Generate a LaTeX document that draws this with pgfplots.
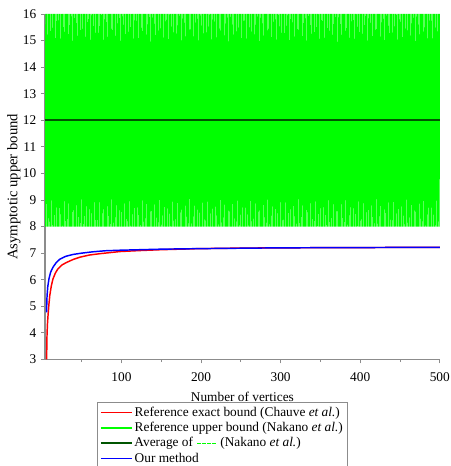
\documentclass[border=0pt]{standalone}
\usepackage{fontspec}
\setmainfont{Liberation Serif}
\usepackage{pgfplots}
\pgfplotsset{compat=1.18}
\definecolor{cred}{RGB}{255,0,0}
\definecolor{cgreen}{RGB}{0,255,0}
\definecolor{cdkgreen}{RGB}{0,85,0}
\definecolor{cblue}{RGB}{0,0,255}
\definecolor{caxis}{RGB}{140,140,140}
\newcommand{\gdashes}{\tikz[baseline=0pt]{\draw[draw=cgreen, line width=1.1pt, dash pattern=on 2.6pt off 1.2pt] (0pt,0.6ex) -- (14.4pt,0.6ex);}}
\begin{document}
\begin{tikzpicture}
\begin{axis}[
  scale only axis,
  width=296pt, height=259pt,
  xmin=4, xmax=500, ymin=3, ymax=16,
  axis lines=left,
  axis line style={-, draw=caxis, line width=1pt},
  xtick={100,200,300,400,500},
  minor xtick={50,150,250,350,450},
  ytick={3,4,5,6,7,8,9,10,11,12,13,14,15,16},
  tick align=outside,
  tick style={draw=caxis, line width=0.6pt},
  major tick length=3pt, minor tick length=2pt,
  /pgf/number format/assume math mode=true,
  tick label style={font=\fontsize{10}{12}\selectfont},
  xticklabel style={yshift=-3.5pt},
  xlabel={Number of vertices},
  ylabel={Asymptotic upper bound},
  xlabel style={font=\fontsize{10}{12}\selectfont, yshift=-1pt},
  ylabel style={font=\fontsize{11}{13}\selectfont, yshift=-5pt},
  legend cell align=left,
  legend style={at={(axis description cs:0.1316,-0.122)}, anchor=north west,
    draw=caxis, line width=0.8pt, font=\fontsize{10}{11}\selectfont,
    row sep=0pt, inner sep=2pt,
    nodes={inner sep=1.5pt}},
  legend image code/.code={\draw[#1] (0pt,0pt) -- (23pt,0pt);},
]
\addplot[draw=cred, line width=1.1pt] coordinates {
(6,3.0)(6.5,3.9)(7,4.3)(7.8,4.66)(9,5.1)(10,5.41)(12,5.78)(14,6.03)(17,6.25)(20,6.4)(25,6.55)(31,6.65)(40,6.77)(48,6.85)(60,6.93)(73,6.98)(98,7.06)(125,7.1)(150,7.13)(198,7.17)(250,7.19)(300,7.2)(400,7.21)(500,7.22)
};
\addlegendentry{Reference exact bound (Chauve \textit{et al.})}
\addplot[draw=cgreen, line width=0.85pt, line join=bevel, legend image post style={line width=1.1pt}] coordinates {
(4,16)(5,8)(6,16)(7,8)(8,16)(9,8)
(10,16)(11,8)(12,16)(13,8)(14,16)(15,8)(16,16)(17,8)(18,16)(19,8)
(20,16)(21,8)(22,16)(23,8)(24,16)(25,8)(26,16)(27,8)(28,16)(29,8)
(30,16)(31,8)(32,16)(33,8)(34,16)(35,8)(36,16)(37,8)(38,16)(39,8)
(40,16)(41,8)(42,16)(43,8)(44,16)(45,8)(46,16)(47,8)(48,16)(49,8)
(50,16)(51,8)(52,16)(53,8)(54,16)(55,8)(56,16)(57,8)(58,16)(59,8)
(60,16)(61,8)(62,16)(63,8)(64,16)(65,8)(66,16)(67,8)(68,16)(69,8)
(70,16)(71,8)(72,16)(73,8)(74,16)(75,8)(76,16)(77,8)(78,16)(79,8)
(80,16)(81,8)(82,16)(83,8)(84,16)(85,8)(86,16)(87,8)(88,16)(89,8)
(90,16)(91,8)(92,16)(93,8)(94,16)(95,8)(96,16)(97,8)(98,16)(99,8)
(100,16)(101,8)(102,16)(103,8)(104,16)(105,8)(106,16)(107,8)(108,16)(109,8)
(110,16)(111,8)(112,16)(113,8)(114,16)(115,8)(116,16)(117,8)(118,16)(119,8)
(120,16)(121,8)(122,16)(123,8)(124,16)(125,8)(126,16)(127,8)(128,16)(129,8)
(130,16)(131,8)(132,16)(133,8)(134,16)(135,8)(136,16)(137,8)(138,16)(139,8)
(140,16)(141,8)(142,16)(143,8)(144,16)(145,8)(146,16)(147,8)(148,16)(149,8)
(150,16)(151,8)(152,16)(153,8)(154,16)(155,8)(156,16)(157,8)(158,16)(159,8)
(160,16)(161,8)(162,16)(163,8)(164,16)(165,8)(166,16)(167,8)(168,16)(169,8)
(170,16)(171,8)(172,16)(173,8)(174,16)(175,8)(176,16)(177,8)(178,16)(179,8)
(180,16)(181,8)(182,16)(183,8)(184,16)(185,8)(186,16)(187,8)(188,16)(189,8)
(190,16)(191,8)(192,16)(193,8)(194,16)(195,8)(196,16)(197,8)(198,16)(199,8)
(200,16)(201,8)(202,16)(203,8)(204,16)(205,8)(206,16)(207,8)(208,16)(209,8)
(210,16)(211,8)(212,16)(213,8)(214,16)(215,8)(216,16)(217,8)(218,16)(219,8)
(220,16)(221,8)(222,16)(223,8)(224,16)(225,8)(226,16)(227,8)(228,16)(229,8)
(230,16)(231,8)(232,16)(233,8)(234,16)(235,8)(236,16)(237,8)(238,16)(239,8)
(240,16)(241,8)(242,16)(243,8)(244,16)(245,8)(246,16)(247,8)(248,16)(249,8)
(250,16)(251,8)(252,16)(253,8)(254,16)(255,8)(256,16)(257,8)(258,16)(259,8)
(260,16)(261,8)(262,16)(263,8)(264,16)(265,8)(266,16)(267,8)(268,16)(269,8)
(270,16)(271,8)(272,16)(273,8)(274,16)(275,8)(276,16)(277,8)(278,16)(279,8)
(280,16)(281,8)(282,16)(283,8)(284,16)(285,8)(286,16)(287,8)(288,16)(289,8)
(290,16)(291,8)(292,16)(293,8)(294,16)(295,8)(296,16)(297,8)(298,16)(299,8)
(300,16)(301,8)(302,16)(303,8)(304,16)(305,8)(306,16)(307,8)(308,16)(309,8)
(310,16)(311,8)(312,16)(313,8)(314,16)(315,8)(316,16)(317,8)(318,16)(319,8)
(320,16)(321,8)(322,16)(323,8)(324,16)(325,8)(326,16)(327,8)(328,16)(329,8)
(330,16)(331,8)(332,16)(333,8)(334,16)(335,8)(336,16)(337,8)(338,16)(339,8)
(340,16)(341,8)(342,16)(343,8)(344,16)(345,8)(346,16)(347,8)(348,16)(349,8)
(350,16)(351,8)(352,16)(353,8)(354,16)(355,8)(356,16)(357,8)(358,16)(359,8)
(360,16)(361,8)(362,16)(363,8)(364,16)(365,8)(366,16)(367,8)(368,16)(369,8)
(370,16)(371,8)(372,16)(373,8)(374,16)(375,8)(376,16)(377,8)(378,16)(379,8)
(380,16)(381,8)(382,16)(383,8)(384,16)(385,8)(386,16)(387,8)(388,16)(389,8)
(390,16)(391,8)(392,16)(393,8)(394,16)(395,8)(396,16)(397,8)(398,16)(399,8)
(400,16)(401,8)(402,16)(403,8)(404,16)(405,8)(406,16)(407,8)(408,16)(409,8)
(410,16)(411,8)(412,16)(413,8)(414,16)(415,8)(416,16)(417,8)(418,16)(419,8)
(420,16)(421,8)(422,16)(423,8)(424,16)(425,8)(426,16)(427,8)(428,16)(429,8)
(430,16)(431,8)(432,16)(433,8)(434,16)(435,8)(436,16)(437,8)(438,16)(439,8)
(440,16)(441,8)(442,16)(443,8)(444,16)(445,8)(446,16)(447,8)(448,16)(449,8)
(450,16)(451,8)(452,16)(453,8)(454,16)(455,8)(456,16)(457,8)(458,16)(459,8)
(460,16)(461,8)(462,16)(463,8)(464,16)(465,8)(466,16)(467,8)(468,16)(469,8)
(470,16)(471,8)(472,16)(473,8)(474,16)(475,8)(476,16)(477,8)(478,16)(479,8)
(480,16)(481,8)(482,16)(483,8)(484,16)(485,8)(486,16)(487,8)(488,16)(489,8)
(490,16)(491,8)(492,16)(493,8)(494,16)(495,8)(496,16)(497,8)(498,16)(499,8)
(500,16)
};
\addlegendentry{Reference upper bound (Nakano \textit{et al.})}
\addplot[draw=cdkgreen, line width=1.2pt] coordinates {(4,12)(500,12)};
\addlegendentry{Average of \gdashes\ (Nakano \textit{et al.})}
\addplot[draw=cblue, line width=1.1pt] coordinates {
(6,4.77)(6.3,5.2)(6.6,5.41)(7.5,5.75)(9,6.04)(11,6.28)(14,6.47)(18,6.64)(22.5,6.77)(30,6.88)(39,6.95)(50,7.0)(64,7.05)(80,7.09)(98,7.11)(150,7.15)(198,7.17)(300,7.2)(400,7.21)(500,7.22)
};
\addlegendentry{Our method}
\end{axis}
\pgfresetboundingbox
\path[use as bounding box] (-33.75pt,-79.9pt) rectangle (304.25pt,269.5pt);
\end{tikzpicture}
\end{document}
